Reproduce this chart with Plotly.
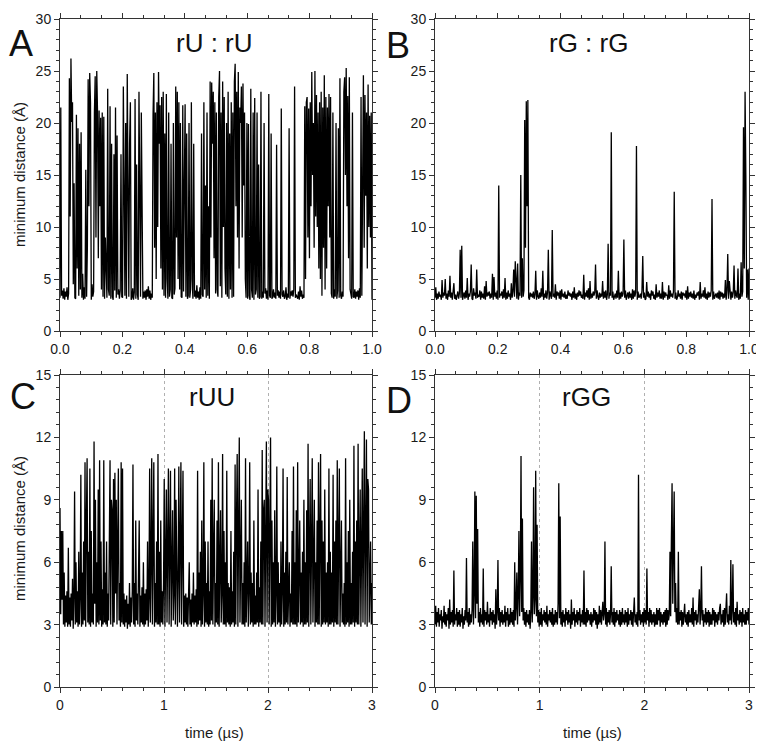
import numpy as np
import plotly.graph_objects as go

# ---------------- data (minimum distance, Å) ----------------
# Panel A: rU : rU, time 0..1 (arb.)
rU_rU = [
    3.2, 21.5, 3.4, 3.9, 3.1, 4.1, 3.0, 3.8, 3.3, 4.2, 3.0, 3.6, 24.3, 11.0, 26.2, 20.1, 22.0, 4.5, 14.2, 3.2,
    3.1, 20.8, 6.0, 19.5, 3.4, 18.0, 4.0, 19.1, 3.2, 5.5, 3.0, 4.2, 3.1, 15.5, 3.3, 8.0, 24.2, 12.0, 24.8, 22.0,
    3.0, 4.5, 3.3, 3.8, 21.0, 24.5, 9.0, 25.0, 21.0, 7.0, 21.2, 12.0, 20.5, 4.0, 21.0, 3.3, 20.6, 3.1, 9.0, 3.5,
    3.2, 23.3, 4.0, 3.4, 21.6, 3.1, 18.0, 3.3, 3.0, 17.0, 3.9, 21.5, 3.2, 18.8, 3.5, 4.0, 3.1, 3.9, 17.0, 3.3,
    3.2, 23.5, 8.0, 3.4, 20.0, 3.1, 24.7, 5.0, 3.3, 18.0, 22.0, 3.0, 3.2, 4.1, 3.0, 3.7, 22.3, 3.1, 16.0, 3.5,
    3.0, 23.0, 6.0, 3.3, 21.0, 4.0, 3.1, 3.8, 3.2, 3.9, 3.0, 4.0, 3.3, 4.3, 3.1, 3.9, 3.0, 3.6, 3.2, 20.8,
    24.8, 8.0, 21.0, 5.0, 22.0, 10.0, 24.9, 18.0, 21.7, 6.0, 22.5, 4.0, 23.0, 3.4, 19.0, 3.2, 22.8, 5.0, 3.1, 21.0,
    3.3, 4.0, 18.0, 3.2, 3.1, 20.0, 3.5, 4.1, 23.5, 9.0, 23.0, 5.0, 22.0, 4.0, 20.0, 3.3, 3.2, 21.7, 3.8, 14.0,
    21.8, 3.3, 19.0, 3.1, 3.4, 20.0, 3.2, 4.0, 22.0, 5.0, 3.1, 18.0, 3.3, 3.9, 3.1, 4.4, 3.2, 3.8, 3.0, 4.2,
    3.1, 19.0, 3.5, 3.3, 22.0, 4.0, 14.0, 3.2, 21.0, 3.4, 12.0, 3.1, 24.0, 9.0, 23.9, 18.0, 23.0, 7.0, 22.0, 3.6,
    21.0, 4.0, 3.3, 22.5, 25.0, 4.3, 21.0, 3.2, 24.0, 10.0, 22.5, 6.0, 3.5, 20.0, 3.3, 23.0, 3.1, 19.0, 4.0, 22.0,
    3.2, 21.0, 3.3, 24.0, 25.7, 12.0, 23.0, 9.0, 24.9, 6.0, 21.5, 20.0, 23.5, 9.0, 23.8, 14.0, 21.0, 5.0, 3.2, 20.0,
    3.1, 19.9, 3.4, 3.0, 23.3, 4.0, 3.2, 21.0, 3.0, 22.4, 3.5, 4.0, 21.0, 3.2, 16.0, 3.1, 3.3, 23.0, 3.1, 3.8,
    3.2, 20.0, 3.6, 4.1, 3.1, 3.9, 3.0, 22.8, 3.4, 3.2, 19.0, 3.1, 3.3, 4.0, 3.2, 3.7, 3.1, 17.9, 3.4, 3.9,
    3.2, 3.8, 3.1, 21.4, 3.5, 3.3, 3.9, 3.1, 3.3, 4.2, 3.0, 3.6, 3.2, 19.5, 3.1, 3.8, 3.4, 3.9, 3.3, 4.0,
    23.5, 3.2, 3.5, 3.3, 3.1, 3.8, 3.0, 4.3, 3.3, 3.9, 3.1, 3.5, 3.2, 21.6, 5.0, 22.0, 22.5, 9.0, 21.4, 7.0,
    22.0, 12.0, 24.9, 15.0, 20.0, 8.0, 25.0, 11.0, 22.7, 10.0, 21.0, 6.0, 22.0, 5.0, 23.0, 3.4, 21.5, 8.0, 24.6, 4.0,
    22.5, 6.0, 21.5, 12.0, 22.8, 9.0, 22.5, 3.6, 3.2, 21.0, 3.1, 4.0, 3.3, 20.0, 3.1, 3.9, 19.5, 3.2, 24.3, 3.4,
    3.1, 3.8, 3.3, 23.0, 24.4, 15.0, 25.3, 12.0, 22.6, 7.0, 24.4, 4.0, 3.5, 3.1, 21.0, 3.3, 3.2, 4.0, 3.1, 3.8,
    3.3, 3.9, 3.0, 4.1, 3.2, 22.5, 3.4, 21.0, 24.6, 8.0, 22.7, 13.0, 21.0, 6.0, 23.7, 10.0, 20.7, 9.0, 21.0, 3.0,
]

# Panel B: rG : rG, time 0..1 (arb.)
rG_rG = [
    3.2, 4.2, 3.0, 3.6, 3.1, 3.8, 3.3, 3.5, 3.0, 4.9, 3.2, 3.7, 3.4, 5.0, 3.1, 3.6, 3.0, 3.9, 3.3, 5.3,
    3.2, 3.7, 3.0, 3.8, 4.6, 3.1, 3.5, 3.0, 3.3, 3.8, 3.1, 3.6, 7.8, 3.2, 8.2, 3.0, 3.4, 3.7, 3.1, 3.9,
    3.2, 5.1, 3.0, 3.6, 3.3, 3.8, 6.4, 3.1, 3.0, 4.1, 3.4, 3.7, 3.1, 5.9, 3.2, 3.5, 3.3, 3.9, 3.0, 3.8,
    3.2, 3.6, 3.1, 4.3, 3.0, 4.8, 3.3, 3.7, 3.4, 3.8, 3.1, 3.6, 3.2, 5.5, 3.0, 5.2, 3.3, 3.7, 3.1, 3.9,
    3.0, 14.0, 3.2, 3.6, 3.4, 3.8, 3.1, 4.0, 3.2, 5.1, 3.0, 3.7, 3.1, 3.9, 3.3, 3.6, 3.0, 4.6, 3.2, 3.8,
    5.9, 3.3, 6.7, 3.4, 3.1, 6.5, 3.0, 3.7, 3.4, 15.0, 3.2, 7.0, 3.3, 3.9, 20.3, 8.0, 22.1, 12.0, 22.2, 3.2,
    3.0, 3.7, 3.3, 3.6, 3.2, 3.8, 3.1, 3.5, 5.8, 3.0, 3.9, 3.3, 3.1, 3.7, 3.2, 4.1, 3.3, 5.8, 3.0, 3.6,
    3.2, 3.9, 3.1, 3.7, 7.8, 3.0, 3.8, 3.4, 3.1, 9.7, 3.3, 3.6, 3.2, 4.5, 3.0, 3.8, 3.4, 3.7, 3.1, 3.9,
    3.0, 4.0, 3.3, 3.6, 3.2, 3.8, 3.1, 3.5, 3.1, 3.9, 3.4, 3.7, 3.3, 3.6, 3.0, 3.8, 3.2, 4.2, 3.1, 3.6,
    3.0, 3.7, 3.3, 3.9, 3.4, 3.8, 3.2, 3.5, 3.1, 5.4, 3.0, 3.7, 3.3, 3.9, 3.2, 4.1, 3.0, 4.8, 3.1, 3.6,
    3.2, 3.8, 3.4, 3.7, 6.4, 3.1, 3.9, 3.3, 3.0, 3.7, 3.2, 3.6, 3.3, 4.8, 3.1, 3.8, 3.2, 3.9, 3.0, 3.5,
    8.4, 3.1, 3.7, 3.4, 19.1, 3.2, 3.8, 3.0, 3.3, 3.6, 3.1, 3.9, 3.2, 5.8, 3.0, 3.7, 3.1, 3.8, 3.3, 3.6,
    8.8, 3.2, 3.9, 3.0, 3.4, 3.7, 3.1, 3.8, 3.2, 3.6, 3.0, 4.0, 3.1, 3.9, 3.3, 3.7, 17.8, 3.0, 3.8, 3.2,
    3.3, 3.6, 3.1, 3.9, 7.2, 3.2, 3.7, 3.0, 3.1, 4.7, 3.3, 3.8, 3.2, 3.6, 3.0, 3.9, 3.4, 3.8, 3.1, 3.5,
    3.0, 4.5, 3.2, 3.7, 3.3, 3.9, 3.1, 3.6, 3.1, 4.7, 3.0, 3.8, 3.2, 3.7, 3.4, 3.5, 3.0, 4.4, 3.1, 3.9,
    3.3, 3.6, 3.2, 3.8, 13.4, 3.1, 3.7, 3.0, 3.2, 3.9, 3.3, 3.6, 3.1, 3.8, 3.0, 3.7, 3.4, 3.6, 3.2, 3.9,
    3.0, 4.3, 3.1, 3.7, 3.3, 3.8, 3.2, 3.6, 3.1, 3.9, 3.0, 3.5, 3.2, 3.7, 3.4, 3.8, 3.0, 4.7, 3.1, 3.6,
    3.3, 3.9, 3.2, 4.2, 3.1, 3.6, 3.0, 3.8, 3.2, 3.7, 3.3, 3.9, 12.7, 3.0, 3.8, 3.1, 3.4, 3.6, 3.2, 3.7,
    3.1, 3.9, 3.0, 3.8, 3.3, 3.7, 3.1, 3.6, 3.2, 4.9, 3.0, 3.9, 7.4, 3.1, 4.8, 3.3, 3.0, 3.8, 3.2, 3.7,
    6.3, 3.1, 3.9, 3.4, 3.2, 6.0, 3.0, 3.6, 3.1, 6.6, 3.3, 3.8, 19.6, 6.0, 23.0, 15.0, 3.2, 5.9, 3.0, 6.0,
]

# Panel C: rUU, time 0..3 µs
rUU = [
    8.6, 3.5, 7.5, 4.2, 7.5, 3.0, 5.5, 2.9, 4.4, 3.1, 4.6, 2.9, 6.7, 3.0, 4.3, 2.9, 4.5, 3.2,
    5.2, 2.8, 4.4, 9.4, 3.0, 6.0, 3.1, 4.6, 2.9, 6.5, 3.0, 4.3, 10.2, 2.9, 5.5, 3.0, 7.0, 3.2,
    10.8, 2.9, 8.0, 11.0, 3.1, 6.5, 3.0, 10.5, 2.9, 7.5, 3.1, 4.5, 3.0, 11.8, 4.0, 9.0, 2.9, 6.0,
    3.1, 9.5, 3.0, 10.9, 3.2, 7.0, 2.9, 4.7, 3.0, 10.9, 3.1, 5.5, 3.0, 7.0, 2.9, 4.5, 3.2, 8.5,
    10.9, 3.0, 9.0, 8.5, 2.9, 10.0, 3.1, 10.3, 4.5, 9.0, 3.0, 7.0, 10.5, 3.2, 5.0, 2.9, 10.8, 3.1,
    10.5, 3.0, 4.5, 2.9, 4.2, 3.1, 4.4, 2.8, 4.0, 3.0, 5.0, 2.9, 4.3, 3.1, 4.6, 10.7, 3.0, 5.0,
    2.9, 8.0, 3.2, 4.5, 3.0, 5.5, 8.0, 2.9, 4.4, 3.1, 4.8, 3.0, 6.0, 2.9, 4.5, 3.0, 4.7, 3.2,
    7.0, 2.9, 4.3, 10.5, 3.1, 6.0, 11.0, 3.0, 8.5, 10.8, 2.9, 5.0, 3.1, 7.0, 3.0, 11.2, 3.0, 6.5,
    2.9, 8.0, 3.1, 4.6, 3.0, 5.0, 10.0, 2.9, 6.0, 9.5, 3.1, 8.0, 10.5, 3.0, 7.5, 10.4, 2.9, 6.0,
    8.5, 3.2, 4.5, 10.5, 3.0, 9.0, 7.0, 2.9, 5.5, 10.6, 3.1, 8.0, 10.8, 3.0, 6.0, 10.4, 2.9, 4.4,
    3.1, 4.5, 3.0, 4.3, 2.9, 4.6, 6.0, 3.0, 4.2, 2.9, 4.5, 3.1, 5.5, 3.0, 4.4, 3.1, 4.7, 2.9,
    10.4, 3.0, 5.5, 3.2, 6.5, 2.9, 8.0, 3.0, 4.5, 10.8, 2.9, 7.0, 3.1, 5.0, 3.0, 7.0, 2.9, 4.6,
    3.0, 9.0, 3.2, 11.0, 3.0, 6.5, 9.0, 2.9, 5.0, 3.1, 8.0, 3.0, 10.8, 2.9, 5.5, 8.5, 3.1, 4.5,
    11.2, 3.0, 7.5, 3.0, 6.0, 2.9, 10.4, 3.1, 5.0, 3.0, 4.8, 2.9, 7.5, 3.0, 4.6, 3.1, 6.5, 2.9,
    10.7, 3.0, 8.0, 11.2, 2.9, 9.5, 12.0, 3.1, 7.0, 9.0, 3.0, 5.0, 3.0, 6.0, 2.9, 11.0, 3.1, 6.5,
    7.0, 2.9, 4.6, 10.8, 3.0, 5.5, 3.1, 5.0, 2.9, 8.0, 3.0, 4.4, 3.0, 5.5, 3.1, 9.5, 2.9, 4.8,
    3.1, 7.0, 3.0, 11.4, 3.0, 8.5, 9.0, 2.9, 6.0, 11.8, 3.1, 9.5, 9.0, 3.0, 7.0, 12.0, 2.9, 8.0,
    3.0, 6.0, 3.1, 8.5, 2.9, 4.5, 10.6, 3.0, 6.0, 3.1, 5.0, 2.9, 7.0, 3.0, 4.6, 10.5, 2.9, 5.5,
    3.0, 6.5, 3.1, 10.1, 3.0, 5.0, 6.0, 2.9, 4.5, 3.1, 7.5, 3.0, 10.6, 3.0, 6.0, 3.0, 8.5, 2.9,
    10.8, 3.1, 7.0, 8.0, 3.0, 5.5, 3.1, 6.5, 2.9, 9.0, 3.0, 6.0, 3.0, 8.5, 3.1, 11.7, 2.9, 9.0,
    10.0, 3.0, 8.5, 11.0, 3.1, 7.5, 9.0, 2.9, 6.0, 3.1, 8.0, 3.0, 10.8, 3.0, 7.0, 11.2, 2.9, 8.0,
    3.0, 7.0, 3.1, 9.5, 3.0, 5.5, 3.1, 6.0, 2.9, 10.5, 3.0, 6.5, 3.0, 5.5, 3.1, 10.2, 2.9, 7.0,
    3.1, 8.0, 3.0, 10.9, 3.0, 9.5, 10.5, 2.9, 6.0, 8.0, 3.1, 4.5, 3.0, 5.0, 2.9, 11.0, 3.0, 6.0,
    3.1, 7.5, 2.9, 9.0, 3.0, 5.0, 3.0, 6.5, 3.1, 11.6, 2.9, 7.0, 3.1, 8.0, 3.0, 11.7, 3.0, 9.0,
    9.5, 2.9, 10.5, 10.5, 3.1, 9.0, 12.3, 3.0, 10.5, 11.9, 2.9, 10.0, 9.5, 3.1, 5.0, 7.0, 3.0, 5.0,
]

# Panel D: rGG, time 0..3 µs
rGG = [
    3.0, 3.9, 2.9, 3.6, 3.1, 3.8, 2.9, 3.5, 3.2, 3.7, 2.8, 3.4, 3.1, 3.9, 3.0, 3.6, 2.9, 3.5,
    3.2, 3.8, 2.8, 4.2, 3.0, 3.6, 3.1, 3.7, 2.9, 5.6, 3.0, 3.5, 3.2, 3.8, 2.9, 3.6, 3.0, 3.7,
    2.9, 3.5, 3.1, 3.8, 2.8, 3.4, 3.0, 3.7, 3.2, 6.2, 3.1, 3.6, 2.9, 3.8, 3.0, 3.5, 3.1, 3.7,
    7.0, 3.0, 4.5, 9.4, 3.3, 9.2, 4.0, 7.6, 3.1, 3.6, 2.9, 3.8, 3.1, 3.5, 3.0, 5.7, 2.9, 3.7,
    3.2, 3.6, 3.0, 4.1, 3.1, 3.5, 2.9, 3.8, 3.2, 3.6, 3.0, 3.7, 3.1, 3.5, 2.8, 4.7, 3.0, 3.6,
    6.1, 3.2, 3.8, 2.9, 3.6, 3.1, 3.7, 3.0, 3.5, 3.1, 3.9, 2.9, 3.6, 3.2, 3.8, 2.9, 3.5, 3.0,
    3.8, 3.1, 3.6, 3.0, 3.7, 2.9, 6.0, 3.2, 3.9, 5.5, 3.0, 4.4, 7.5, 3.4, 5.2, 11.1, 3.6, 8.1,
    3.2, 3.8, 3.0, 3.6, 2.9, 3.7, 3.1, 3.5, 3.0, 3.7, 2.8, 3.6, 7.0, 3.1, 4.3, 9.6, 3.5, 4.2,
    10.4, 3.4, 7.8, 3.1, 3.7, 2.9, 3.6, 3.0, 3.8, 2.9, 3.5, 3.2, 3.7, 3.1, 3.6, 3.0, 3.9, 2.9,
    3.5, 3.2, 3.7, 3.1, 3.6, 3.0, 3.8, 2.9, 3.5, 3.0, 3.7, 3.1, 3.6, 3.0, 4.0, 9.8, 3.3, 8.2,
    3.0, 3.6, 2.9, 3.7, 3.1, 3.5, 2.9, 3.8, 3.2, 3.6, 3.0, 3.7, 3.1, 3.5, 2.8, 4.2, 3.0, 3.6,
    3.2, 3.8, 2.9, 3.5, 3.1, 3.7, 3.0, 3.6, 3.2, 3.8, 2.9, 3.5, 3.1, 3.7, 3.0, 5.6, 3.0, 3.6,
    2.9, 3.8, 3.1, 3.7, 3.2, 3.5, 3.0, 3.6, 2.9, 3.5, 3.1, 3.8, 3.2, 3.7, 3.0, 3.6, 2.8, 3.5,
    3.0, 3.9, 3.1, 3.7, 3.0, 3.6, 4.1, 3.2, 3.5, 7.0, 3.0, 3.8, 2.9, 3.6, 3.1, 3.7, 3.0, 3.5,
    5.8, 3.1, 3.6, 3.0, 3.8, 2.9, 3.6, 3.1, 3.7, 3.2, 3.5, 3.0, 3.7, 2.9, 3.6, 3.0, 3.8, 3.1,
    3.5, 3.0, 3.7, 3.1, 3.6, 2.9, 3.8, 3.0, 3.5, 3.2, 3.7, 3.0, 3.6, 2.9, 3.8, 4.3, 3.1, 3.5,
    3.0, 3.6, 2.9, 10.2, 3.2, 3.7, 3.0, 3.5, 3.1, 3.6, 2.9, 3.8, 3.1, 3.7, 3.0, 5.7, 3.2, 3.6,
    2.9, 3.8, 3.1, 3.7, 3.0, 3.5, 3.1, 3.6, 2.9, 3.5, 3.0, 3.8, 3.0, 3.7, 3.2, 3.8, 2.9, 3.6,
    3.1, 3.5, 3.0, 3.6, 3.1, 3.7, 2.9, 3.8, 3.0, 3.7, 3.2, 3.5, 6.5, 3.4, 7.1, 9.8, 4.0, 6.0,
    9.4, 3.6, 5.0, 3.1, 3.8, 3.0, 6.5, 3.0, 3.6, 3.2, 3.7, 2.9, 3.6, 3.0, 3.8, 4.0, 3.1, 3.5,
    3.0, 3.6, 2.9, 3.7, 3.1, 3.5, 3.1, 3.8, 3.0, 4.3, 2.9, 3.6, 3.2, 3.7, 3.0, 3.5, 3.1, 3.8,
    4.7, 3.0, 3.6, 5.8, 3.2, 3.7, 2.9, 3.5, 3.1, 3.8, 3.0, 3.6, 3.1, 3.7, 2.9, 3.6, 3.0, 3.5,
    3.0, 3.8, 3.2, 3.7, 2.9, 3.6, 3.1, 3.5, 3.0, 3.6, 3.2, 3.8, 4.0, 3.0, 3.5, 3.1, 3.7, 2.9,
    3.8, 3.0, 3.6, 4.5, 3.1, 3.5, 3.0, 3.9, 3.2, 6.1, 3.0, 3.7, 5.9, 3.1, 3.6, 3.0, 3.8, 2.9,
    4.1, 3.2, 3.5, 3.0, 3.7, 3.1, 3.6, 2.9, 3.8, 3.1, 3.5, 3.0, 3.7, 3.0, 3.6, 3.2, 3.8, 3.0,
]

panel_titles = ["rU : rU", "rG : rG", "rUU", "rGG"]
panel_letters = ["A", "B", "C", "D"]
y_title = "minimum distance (Å)"
x_title = "time (µs)"
t_end_top = 1.0
t_end_bottom = 3.0

# ---------------- figure ----------------
# The page body has an 8 px margin, so the figure is 756x740 and all
# reference pixel positions are shifted by 8 px.
OFF = 8
W, H = 764 - OFF, 748 - OFF
FONT = "Liberation Sans, Arial, sans-serif"


def px_x(p):
    return (p - OFF) / W


def px_y(p):
    return 1 - (p - OFF) / H


fig = go.Figure()

series = [
    (rU_rU, t_end_top, "x", "y"),
    (rG_rG, t_end_top, "x2", "y2"),
    (rUU, t_end_bottom, "x3", "y3"),
    (rGG, t_end_bottom, "x4", "y4"),
]
for vals, tend, xa, ya in series:
    t = np.linspace(0, tend, len(vals))
    fig.add_trace(go.Scatter(x=t, y=vals, mode="lines", xaxis=xa, yaxis=ya,
                             line=dict(color="#000000", width=1.3), showlegend=False,
                             hoverinfo="skip"))

axcol = "#333333"
tickfont = dict(family=FONT, size=14, color="#1a1a1a")


def xaxis(domain, rng, dtick, mdtick, anchor, fmt, grid):
    return dict(domain=domain, range=rng, anchor=anchor, dtick=dtick, tick0=0,
                tickformat=fmt, ticks="outside", ticklen=5, tickwidth=1, tickcolor=axcol,
                showline=True, linecolor=axcol, linewidth=1, mirror="ticks",
                showgrid=grid, gridcolor="#b0b0b0", griddash="dot", gridwidth=1,
                zeroline=False, tickfont=tickfont, automargin=False,
                minor=dict(dtick=mdtick, tick0=0, ticks="outside", ticklen=3,
                           tickcolor=axcol, showgrid=False))


def yaxis(domain, rng, dtick, mdtick, anchor):
    return dict(domain=domain, range=rng, anchor=anchor, dtick=dtick, tick0=0,
                ticks="outside", ticklen=5, tickwidth=1, tickcolor=axcol,
                showline=True, linecolor=axcol, linewidth=1, mirror="ticks",
                showgrid=False, zeroline=False, tickfont=tickfont, automargin=False,
                minor=dict(dtick=mdtick, tick0=0, ticks="outside", ticklen=3,
                           tickcolor=axcol, showgrid=False))


xl = [px_x(60), px_x(372)]
xr = [px_x(435), px_x(749)]
yt = [px_y(331), px_y(19)]
yb = [px_y(687), px_y(375)]

fig.update_layout(
    width=W, height=H,
    margin=dict(l=0, r=0, t=0, b=0, autoexpand=False),
    paper_bgcolor="white", plot_bgcolor="white",
    xaxis=xaxis(xl, [0, 1], 0.2, 0.2 / 3, "y", ".1f", False),
    yaxis=yaxis(yt, [0, 30], 5, 1, "x"),
    xaxis2=xaxis(xr, [0, 1], 0.2, 0.2 / 3, "y2", ".1f", False),
    yaxis2=yaxis(yt, [0, 30], 5, 1, "x2"),
    xaxis3=xaxis(xl, [0, 3], 1, 0.2, "y3", "d", True),
    yaxis3=yaxis(yb, [0, 15], 3, 0.6, "x3"),
    xaxis4=xaxis(xr, [0, 3], 1, 0.2, "y4", "d", True),
    yaxis4=yaxis(yb, [0, 15], 3, 0.6, "x4"),
)

ann = []
letter_pos = [(21, 44), (398, 45), (23, 396), (399, 400)]
for (lx, ly), letter in zip(letter_pos, panel_letters):
    ann.append(dict(x=px_x(lx), y=px_y(ly), xref="paper", yref="paper", text=letter,
                    showarrow=False, xanchor="center", yanchor="middle",
                    font=dict(family=FONT, size=36, color="#111111")))
title_pos = [(214, 43), (588, 43), (212, 397), (586, 397)]
for (tx, ty), title in zip(title_pos, panel_titles):
    ann.append(dict(x=px_x(tx), y=px_y(ty), xref="paper", yref="paper", text=title,
                    showarrow=False, xanchor="center", yanchor="middle",
                    font=dict(family=FONT, size=26, color="#111111")))
for cy in (175, 529):
    ann.append(dict(x=px_x(19), y=px_y(cy), xref="paper", yref="paper", text=y_title,
                    showarrow=False, xanchor="center", yanchor="middle", textangle=-90,
                    font=dict(family=FONT, size=15, color="#1a1a1a")))
for cx in (214, 592):
    ann.append(dict(x=px_x(cx), y=px_y(732), xref="paper", yref="paper", text=x_title,
                    showarrow=False, xanchor="center", yanchor="middle",
                    font=dict(family=FONT, size=15, color="#1a1a1a")))
fig.update_layout(annotations=ann)

fig.write_html("out.html")
